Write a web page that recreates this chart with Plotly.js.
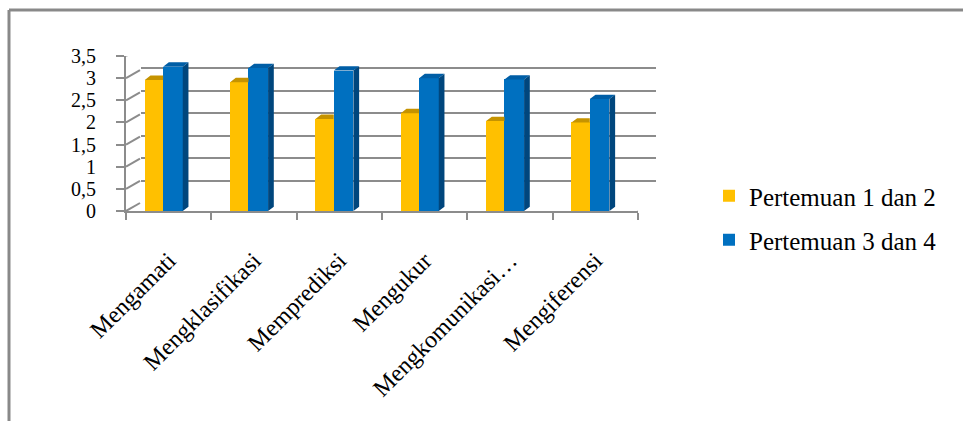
<!DOCTYPE html>
<html>
<head>
<meta charset="utf-8">
<script src="https://cdn.plot.ly/plotly-3.0.1.min.js"></script>
<style>html,body{margin:0;padding:0;background:#fff;}#chart{width:963px;height:421px;}</style>
</head>
<body>
<div id="chart"></div>
<script>
const categories = ["Mengamati", "Mengklasifikasi", "Memprediksi", "Mengukur", "Mengkomunikasi…", "Mengiferensi"];
const seriesNames = ["Pertemuan 1 dan 2", "Pertemuan 3 dan 4"];
const pertemuan12 = [2.96, 2.91, 2.08, 2.21, 2.03, 2.00];
const pertemuan34 = [3.26, 3.23, 3.17, 3.00, 2.97, 2.53];
const yTicks = [0, 0.5, 1, 1.5, 2, 2.5, 3, 3.5];

const W = 963, H = 421;
const gridColor = '#8c8c8c';
const font = 'Liberation Serif';

// geometry (styling)
const yellowOff = -0.28, yellowW = 0.215;
const blueOff = -0.065, blueW = 0.23;
const dX = 0.067, dY = 0.097; // depth offset in axis units

function tops(vals, off, w, trimRight) {
  const xs = [], ys = [];
  vals.forEach((v, i) => {
    const xl = i + off, xr = i + off + w;
    if (trimRight) {
      xs.push(xl, xr, xr, xl + dX, xl, null);
      ys.push(v, v, v + dY, v + dY, v, null);
    } else {
      xs.push(xl, xr, xr + dX, xl + dX, xl, null);
      ys.push(v, v, v + dY, v + dY, v, null);
    }
  });
  return {xs, ys};
}
function sides(vals, off, w) {
  const xs = [], ys = [];
  vals.forEach((v, i) => {
    const xr = i + off + w;
    xs.push(xr, xr, xr + dX, xr + dX, xr, null);
    ys.push(0, v, v + dY, dY, 0, null);
  });
  return {xs, ys};
}
const yTop = tops(pertemuan12, yellowOff, yellowW, true);
const bTop = tops(pertemuan34, blueOff, blueW, false);
const bSide = sides(pertemuan34, blueOff, blueW);

const traces = [
  {x: [0], y: [0], xaxis: 'x', yaxis: 'y', type: 'scatter', mode: 'markers',
   marker: {opacity: 0}, hoverinfo: 'skip', showlegend: false},
  {x: categories, y: pertemuan12, name: seriesNames[0], type: 'bar', xaxis: 'x2', yaxis: 'y2',
   offset: yellowOff, width: yellowW, marker: {color: '#FFC000'}, legend: 'legend'},
  {x: categories, y: pertemuan34, name: seriesNames[1], type: 'bar', xaxis: 'x2', yaxis: 'y2',
   offset: blueOff, width: blueW, marker: {color: '#0070C0'}, legend: 'legend2'},
  {x: yTop.xs, y: yTop.ys, xaxis: 'x3', yaxis: 'y2', type: 'scatter', mode: 'lines', fill: 'toself',
   fillcolor: '#C59300', line: {width: 0, color: '#C59300'}, hoverinfo: 'skip', showlegend: false},
  {x: bTop.xs, y: bTop.ys, xaxis: 'x3', yaxis: 'y2', type: 'scatter', mode: 'lines', fill: 'toself',
   fillcolor: '#005EA6', line: {width: 0, color: '#005EA6'}, hoverinfo: 'skip', showlegend: false},
  {x: bSide.xs, y: bSide.ys, xaxis: 'x3', yaxis: 'y2', type: 'scatter', mode: 'lines', fill: 'toself',
   fillcolor: '#00467D', line: {width: 0, color: '#00467D'}, hoverinfo: 'skip', showlegend: false}
];

const shapes = [];
yTicks.forEach(v => {
  shapes.push({type: 'line', xref: 'x3', xsizemode: 'pixel', xanchor: -0.5, x0: 0, x1: 14,
    yref: 'y2', ysizemode: 'pixel', yanchor: v, y0: 0, y1: 8,
    line: {color: gridColor, width: 2}});
});
shapes.push({type: 'line', xref: 'x3', xsizemode: 'pixel', xanchor: 5.5, x0: 0, x1: 17,
  yref: 'y2', ysizemode: 'pixel', yanchor: 0, y0: 0, y1: 8,
  line: {color: gridColor, width: 2}});
shapes.push({type: 'line', xref: 'paper', yref: 'paper', x0: 9/W, x1: 1, y0: 1 - 10/H, y1: 1 - 10/H,
  line: {color: '#898989', width: 3}});
shapes.push({type: 'line', xref: 'paper', yref: 'paper', x0: 9/W, x1: 9/W, y0: 0, y1: 1 - 10/H,
  line: {color: '#898989', width: 3}});

const layout = {
  width: W, height: H,
  margin: {l: 0, r: 0, t: 0, b: 0},
  paper_bgcolor: '#ffffff', plot_bgcolor: 'rgba(0,0,0,0)',
  separators: ', ',
  font: {family: font, size: 20, color: '#000'},
  bargap: 0,
  xaxis: {domain: [141/W, 656/W], range: [-0.5, 5.5], anchor: 'y', showgrid: false,
    zeroline: false, showticklabels: false, ticks: '', showline: false, fixedrange: true},
  yaxis: {domain: [1 - 203/H, 1 - 46/H], range: [0, 3.5], anchor: 'x', tickvals: yTicks,
    showgrid: true, gridcolor: gridColor, gridwidth: 2, zeroline: false,
    showticklabels: false, ticks: '', showline: false, fixedrange: true},
  xaxis2: {domain: [126/W, 638/W], anchor: 'y2', type: 'category', range: [-0.5, 5.5],
    showgrid: false, zeroline: false, showline: true, linecolor: gridColor, linewidth: 2,
    ticks: 'outside', tickson: 'boundaries', ticklen: 7, tickwidth: 2, tickcolor: gridColor,
    tickangle: -45, ticklabelstandoff: 24, ticklabelshift: 0,
    tickfont: {family: font, size: 24, color: '#000'}, fixedrange: true},
  yaxis2: {domain: [1 - 211/H, 1 - 56/H], anchor: 'x2', range: [0, 3.5], tickvals: yTicks,
    showgrid: false, zeroline: false, showline: true, linecolor: gridColor, linewidth: 2,
    ticks: 'outside', ticklen: 8, tickwidth: 2, tickcolor: gridColor, ticklabelstandoff: 16,
    tickfont: {family: font, size: 20, color: '#000'}, fixedrange: true},
  xaxis3: {overlaying: 'x2', range: [-0.5, 5.5], anchor: 'y2', visible: false, fixedrange: true},
  legend: {x: 709/W, xanchor: 'left', y: 1 - 196/H, yanchor: 'middle', bgcolor: 'rgba(0,0,0,0)',
    font: {family: font, size: 25, color: '#000'}},
  legend2: {x: 709/W, xanchor: 'left', y: 1 - 240/H, yanchor: 'middle', bgcolor: 'rgba(0,0,0,0)',
    font: {family: font, size: 25, color: '#000'}},
  shapes: shapes,
  showlegend: true
};

Plotly.newPlot('chart', traces, layout, {displayModeBar: false, staticPlot: true});
</script>
</body>
</html>
